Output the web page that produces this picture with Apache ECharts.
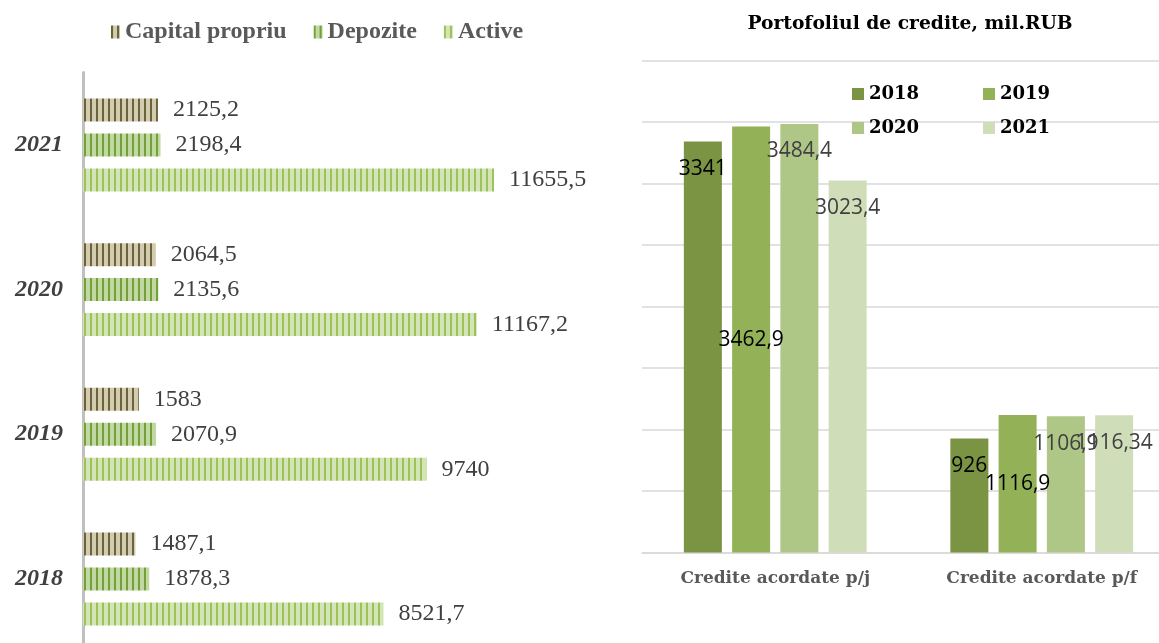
<!DOCTYPE html>
<html>
<head>
<meta charset="utf-8">
<script src="https://cdn.jsdelivr.net/npm/echarts@6/dist/echarts.min.js"></script>
<style>
  html, body { margin: 0; padding: 0; background: #fff; overflow: hidden; }
  /* the drawing surface runs a little past the window on the right and bottom */
  #chart { width: 1185px; height: 660px; }
</style>
</head>
<body>
<div id="chart"></div>
<script>
// Left panel: bank balance indicators per year
const years = ['2018', '2019', '2020', '2021'];
const capitalPropriu = [1487.1, 1583, 2064.5, 2125.2];
const depozite = [1878.3, 2070.9, 2135.6, 2198.4];
const active = [8521.7, 9740, 11167.2, 11655.5];
const balanceNames = ['Capital propriu', 'Depozite', 'Active'];

// Right panel: loan portfolio, mil. RUB
const creditCategories = ['Credite acordate p/j', 'Credite acordate p/f'];
const credite2018 = [3341, 926];
const credite2019 = [3462.9, 1116.9];
const credite2020 = [3484.4, 1106.9];
const credite2021 = [3023.4, 1116.34];
const creditYears = ['2018', '2019', '2020', '2021'];

const fmt = v => String(v).replace('.', ',');

// vertical stripe fill for the horizontal bars
function stripes(bg, fg) {
  const c = document.createElement('canvas');
  c.width = 6; c.height = 4;
  const ctx = c.getContext('2d');
  ctx.fillStyle = bg; ctx.fillRect(0, 0, 6, 4);
  ctx.fillStyle = fg; ctx.fillRect(0, 0, 2, 4);
  return { image: c, repeat: 'repeat' };
}
const fills = [
  stripes('#d3cbb0', '#6b6339'),
  stripes('#c2d8a2', '#74a03a'),
  stripes('#d3e4b6', '#9cc35a')
];

const serif = '"Liberation Serif", "Times New Roman", serif';
const slab = '"DejaVu Serif", serif';
const sans = '"Open Sans", "Noto Sans", sans-serif';

const leftSeries = [capitalPropriu, depozite, active].map((vals, i) => ({
  name: balanceNames[i],
  type: 'bar',
  xAxisIndex: 0,
  yAxisIndex: 0,
  data: vals,
  barWidth: 23,
  barGap: '52%',
  itemStyle: { color: fills[i] },
  label: {
    show: true,
    position: 'right',
    distance: 15,
    formatter: p => fmt(p.value),
    fontFamily: serif,
    fontSize: 24,
    color: '#404040'
  }
}));

const rightColors = ['#7b9443', '#93b156', '#afc786', '#cfddb9'];
const rightLabelColors = ['#000000', '#000000', '#404040', '#404040'];
const rightLabelPos = ['insideTop', 'inside', 'insideTop', 'insideTop'];
const rightSeries = [credite2018, credite2019, credite2020, credite2021].map((vals, i) => ({
  name: creditYears[i],
  type: 'bar',
  xAxisIndex: 1,
  yAxisIndex: 1,
  data: vals,
  barWidth: 38,
  barGap: '27%',
  itemStyle: { color: rightColors[i] },
  label: {
    show: true,
    position: rightLabelPos[i],
    distance: 17,
    formatter: p => fmt(p.value),
    fontFamily: sans,
    fontSize: 21,
    color: rightLabelColors[i]
  }
}));

const rightLegend = (name, left, top) => ({
  data: [name],
  left: left,
  top: top,
  padding: 0,
  itemWidth: 12,
  itemHeight: 12,
  itemGap: 5,
  icon: 'rect',
  textStyle: { fontFamily: slab, fontWeight: 'bold', fontSize: 18, color: '#000' }
});

const chart = echarts.init(document.getElementById('chart'), null, { renderer: 'canvas' });
chart.setOption({
  animation: false,
  backgroundColor: '#ffffff',
  title: {
    text: 'Portofoliul de credite, mil.RUB',
    left: 905,
    top: 10,
    textAlign: 'center',
    textStyle: { fontFamily: slab, fontWeight: 'bold', fontSize: 18.7, color: '#000' }
  },
  legend: [
    {
      data: balanceNames,
      left: 111,
      top: 20,
      padding: 0,
      itemWidth: 9,
      itemHeight: 13,
      itemGap: 27,
      icon: 'rect',
      textStyle: { fontFamily: serif, fontWeight: 'bold', fontSize: 24, color: '#595959' }
    },
    rightLegend('2018', 852, 85),
    rightLegend('2019', 983, 85),
    rightLegend('2020', 852, 119),
    rightLegend('2021', 983, 119)
  ],
  grid: [
    { left: 83, width: 493.7, top: 72.6, height: 578.7, containLabel: false },
    { left: 642, width: 533, top: 60.5, height: 492, containLabel: false }
  ],
  xAxis: [
    { type: 'value', gridIndex: 0, min: 0, max: 14000, show: false },
    {
      type: 'category', gridIndex: 1, data: creditCategories,
      axisTick: { show: false },
      axisLine: { lineStyle: { color: '#d9d9d9', width: 1.5 } },
      axisLabel: { margin: 18, fontFamily: slab, fontWeight: 'bold', fontSize: 17, color: '#595959' }
    }
  ],
  yAxis: [
    {
      type: 'category', gridIndex: 0, data: years,
      axisTick: { show: false },
      axisLine: { lineStyle: { color: '#c0c0c0', width: 3 } },
      axisLabel: { margin: 20, fontFamily: serif, fontWeight: 'bold', fontStyle: 'italic', fontSize: 24, color: '#404040' }
    },
    {
      type: 'value', gridIndex: 1, min: 0, max: 4000, interval: 500,
      axisLabel: { show: false },
      axisLine: { show: false },
      axisTick: { show: false },
      splitLine: { lineStyle: { color: '#d9d9d9', width: 1.5 } }
    }
  ],
  series: leftSeries.concat(rightSeries)
});
</script>
</body>
</html>
